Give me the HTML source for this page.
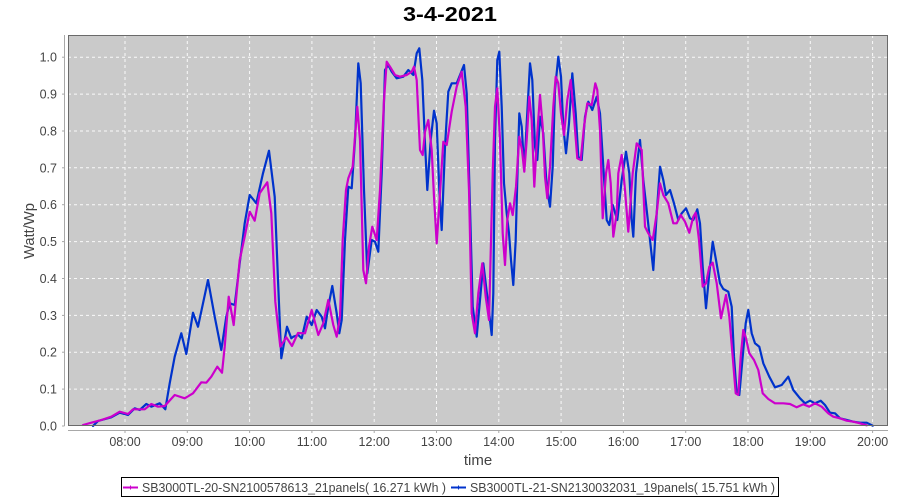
<!DOCTYPE html>
<html>
<head>
<meta charset="utf-8">
<style>
  html,body{margin:0;padding:0;background:#fff;}
  svg{display:block;}
  text{font-family:"Liberation Sans","DejaVu Sans",sans-serif;}
</style>
</head>
<body>
<svg width="900" height="500" viewBox="0 0 900 500" xmlns="http://www.w3.org/2000/svg">
  <rect x="0" y="0" width="900" height="500" fill="#ffffff"/>
  <!-- title -->
  <text x="450" y="21" text-anchor="middle" font-size="20" font-weight="bold" fill="#000" textLength="94" lengthAdjust="spacingAndGlyphs">3-4-2021</text>

  <!-- plot background -->
  <rect x="68" y="35" width="820" height="391" fill="#cacaca"/>

  <!-- grid -->
  <g stroke="#ffffff" stroke-width="1" stroke-dasharray="3,3" fill="none" opacity="0.9">
    <line x1="68" y1="389.1" x2="888" y2="389.1"/>
    <line x1="68" y1="352.2" x2="888" y2="352.2"/>
    <line x1="68" y1="315.4" x2="888" y2="315.4"/>
    <line x1="68" y1="278.5" x2="888" y2="278.5"/>
    <line x1="68" y1="241.6" x2="888" y2="241.6"/>
    <line x1="68" y1="204.7" x2="888" y2="204.7"/>
    <line x1="68" y1="167.8" x2="888" y2="167.8"/>
    <line x1="68" y1="131.0" x2="888" y2="131.0"/>
    <line x1="68" y1="94.1" x2="888" y2="94.1"/>
    <line x1="68" y1="57.2" x2="888" y2="57.2"/>
    <line x1="125" y1="35" x2="125" y2="426"/>
    <line x1="187.3" y1="35" x2="187.3" y2="426"/>
    <line x1="249.6" y1="35" x2="249.6" y2="426"/>
    <line x1="311.9" y1="35" x2="311.9" y2="426"/>
    <line x1="374.2" y1="35" x2="374.2" y2="426"/>
    <line x1="436.5" y1="35" x2="436.5" y2="426"/>
    <line x1="498.8" y1="35" x2="498.8" y2="426"/>
    <line x1="561.1" y1="35" x2="561.1" y2="426"/>
    <line x1="623.4" y1="35" x2="623.4" y2="426"/>
    <line x1="685.7" y1="35" x2="685.7" y2="426"/>
    <line x1="748" y1="35" x2="748" y2="426"/>
    <line x1="810.3" y1="35" x2="810.3" y2="426"/>
    <line x1="872.6" y1="35" x2="872.6" y2="426"/>
  </g>

  <!-- series: blue first, magenta on top -->
  <polyline fill="none" stroke="#0033cc" stroke-width="2.2" stroke-linejoin="round" stroke-linecap="round"
    points="93,426 98,421 111.3,417.3 119.7,412.7 128,415 134.7,408.3 139.7,410 146.3,404 151.3,406.7 159.7,403.3 165.3,409.3 169.7,383.3 174.7,356.7 181.3,333.3 186.3,354 193,312.7 198,326.7 208,280 214.7,316.7 221.3,350 226.3,316.7 229.7,303.3 234.7,305 239.7,263.3 244.7,223.3 249.7,195 256.3,203.3 263,173.3 269,150.7 274.7,196.7 278,280 281.3,358.3 287,326.7 291.3,338.3 293.3,336.7 298.3,335 301.7,338.3 306.7,316.7 311.7,325 316.7,310 321.7,316.7 325,328.3 328.3,306.7 332.3,286 336.7,313.3 339.3,333.3 341.7,320 345,240 348.3,186.7 351.7,188.3 355,140 358.3,63.3 360.7,83.3 364,190 367.3,273.3 371.7,240 375,241.7 378.3,251.7 381.7,173.3 385,70 388.3,65 391.7,71.7 396.7,78.3 403.3,76.7 408.3,70 413.3,75 416.7,53.3 419.3,48.3 422.3,80 425,143.3 427.3,190 430.7,140 434,110.7 436.7,123.3 439.3,190 441.7,230 445,146.7 448.3,91.7 451.7,83.3 456.7,83.3 460.7,73.3 464,65 466.7,93.3 470,206.7 472.7,306.7 476.7,336.7 480,300 483.3,263.3 487.7,300 491.7,335 493.3,293.3 495,140 497.3,60 499.3,51.7 501.7,106.7 504,183.3 506.7,213.3 509,233.3 511,260 513.3,285 515.7,240 517.3,180 519.3,113.3 521.7,126.7 524.3,170 526.7,123.3 530,63.3 532.3,80 535,146.7 537.3,160 540,116.7 543.3,133.3 546.7,186.7 550,206.7 552.7,166.7 555,90 558.3,56.7 561,76.7 563.3,126.7 566,153.3 569,123.3 572.3,73.3 575.7,113.3 578.3,156.7 581.7,160 585,116.7 588.3,101.7 592.3,110 596.7,96.7 600,113.3 603.3,166.7 606.7,220 609.3,225 612.7,205 617.3,220 621.7,180 626,151.7 629.3,173.3 631.7,220 633.3,236.7 636,173.3 640,140 643.3,180 646.7,210 650,240 653.3,270 656.7,213.3 660,166.7 663.3,180 666,195 670,190 674,203.3 678.3,220 681.7,213.3 686,208.3 690,218.3 693.3,220 697.3,209.3 700,223.3 702.7,266.7 706,308.3 709.3,273.3 712.7,241.7 716,260 720,283.3 723.3,289 728.3,291.7 731.7,306.7 734,356.7 736.7,393.3 739.3,395 742.7,356.7 745.7,323.3 748.3,310 751.7,333.3 755,343.3 759.3,346.7 763.3,363.3 769.3,376.7 775,387.3 781.7,385 788.3,376.7 793.3,390 800,398.3 805,403.3 810,400.7 815,403.3 820.7,400.7 825,405 830,412.7 835,413.3 840,418.3 846.7,420 853.3,421.7 860,422.7 866.7,422.7 872.7,425.7"/>
  <polyline fill="none" stroke="#cc00cc" stroke-width="2.2" stroke-linejoin="round" stroke-linecap="round"
    points="83,425 91.3,422.7 101.3,420 111.3,416.7 119.7,411.7 128,414 133,409.3 144.7,409.3 151.3,404 158,406.7 164.7,406 174.7,395 184.7,398.3 193,393.3 201.3,382.3 206.3,382.7 211.3,376.7 217.3,366.7 222,372.7 224.7,346.7 228.7,296.7 233.7,325 236.3,296.7 239.7,260 244.7,236.7 249.7,211.7 254.7,220.7 259.7,193.3 267.3,182.3 271.3,213.3 275.3,301.7 280.3,346.7 286.3,337.3 292,346 298,333 305,333.3 311.7,310 318.3,335 323.3,323.3 328.3,300 333.3,325 336.7,336.7 340,316.7 342.7,240 346,190 348.3,178.3 352.7,166.7 355,136.7 357.3,106.7 360,140 363.3,270 366,283.3 369,246.7 372.3,226.7 376.7,240 380,190 384,100 386.7,61.7 390,66.7 395,75 400,76.7 406.7,75 411.7,71.7 414,66.7 416.7,80 420,150 422.7,155 425,131.7 428.3,120 431.7,150 434,196.7 436.7,243.3 440,193.3 443.3,141.7 446.7,145 451.7,111.7 456.7,86.7 461.7,71.7 465.7,106.7 469,190 471.7,313.3 475,333.3 478.3,293.3 482.3,263.3 485.7,296.7 489,320 492.7,173.3 495,106.7 497.3,88.3 500,140 502.7,233.3 505,265 507.3,220 510,203.3 512.7,215 516,186.7 519.3,136.7 522,150 524.3,171.7 526.7,140 529.3,96.7 531.7,120 534.3,186.7 537.3,133.3 540,95 542.7,126.7 545,176.7 547.3,198.3 550,166.7 553.3,106.7 555.7,76.7 558.3,83.3 561,113.3 564,135 567.3,100 570.7,80 574,116.7 577.3,158.3 580.7,160 584,126.7 587.3,103.3 591.7,105 595.3,83.3 597.3,90 600,130 602.7,218.3 606,173.3 608.3,160 610.7,183.3 613.3,236.7 616.7,213.3 618.3,173.3 621.7,155 625,190 628.3,231.7 632.7,173.3 636.7,143.3 641.7,150 645,226.7 648.3,233.3 652.7,240 656.7,213.3 660,183.3 663.3,195 668.3,203.3 673.3,223.3 676.7,223.3 680.7,215 685,221.7 689.3,232.7 693.3,216.7 695.7,212.7 699,240 702.7,286.7 706,283.3 709.3,266.7 712.7,262.7 716.7,283.3 721,318.3 726,295 729.3,316.7 732.7,356.7 735.7,393.3 738.3,395 740.7,356.7 743.3,330 746,338.3 749.3,353.3 754,360 758.3,370 762.7,393.3 768.3,399 775,403.3 783.3,403.3 790,404 796.7,407.3 803.3,404.3 809.3,406.7 815,403.3 821.7,406.7 828.3,413.3 833.3,416.7 840,418.3 846.7,420.7 853.3,421.7 860,423.3 866.7,425.3"/>

  <!-- plot outline -->
  <rect x="68.5" y="35.5" width="819" height="390" fill="none" stroke="#6a6a6a" stroke-width="1"/>

  <!-- axes -->
  <g stroke="#a8a8a8" stroke-width="1" fill="none">
    <line x1="64.5" y1="35" x2="64.5" y2="426"/>
    <line x1="68" y1="430.5" x2="888" y2="430.5"/>
    <!-- y ticks -->
    <line x1="62" y1="426" x2="64.5" y2="426"/>
    <line x1="62" y1="389.1" x2="64.5" y2="389.1"/>
    <line x1="62" y1="352.2" x2="64.5" y2="352.2"/>
    <line x1="62" y1="315.4" x2="64.5" y2="315.4"/>
    <line x1="62" y1="278.5" x2="64.5" y2="278.5"/>
    <line x1="62" y1="241.6" x2="64.5" y2="241.6"/>
    <line x1="62" y1="204.7" x2="64.5" y2="204.7"/>
    <line x1="62" y1="167.8" x2="64.5" y2="167.8"/>
    <line x1="62" y1="131.0" x2="64.5" y2="131.0"/>
    <line x1="62" y1="94.1" x2="64.5" y2="94.1"/>
    <line x1="62" y1="57.2" x2="64.5" y2="57.2"/>
    <!-- x ticks -->
    <line x1="125" y1="430.5" x2="125" y2="433"/>
    <line x1="187.3" y1="430.5" x2="187.3" y2="433"/>
    <line x1="249.6" y1="430.5" x2="249.6" y2="433"/>
    <line x1="311.9" y1="430.5" x2="311.9" y2="433"/>
    <line x1="374.2" y1="430.5" x2="374.2" y2="433"/>
    <line x1="436.5" y1="430.5" x2="436.5" y2="433"/>
    <line x1="498.8" y1="430.5" x2="498.8" y2="433"/>
    <line x1="561.1" y1="430.5" x2="561.1" y2="433"/>
    <line x1="623.4" y1="430.5" x2="623.4" y2="433"/>
    <line x1="685.7" y1="430.5" x2="685.7" y2="433"/>
    <line x1="748" y1="430.5" x2="748" y2="433"/>
    <line x1="810.3" y1="430.5" x2="810.3" y2="433"/>
    <line x1="872.6" y1="430.5" x2="872.6" y2="433"/>
  </g>

  <!-- y tick labels -->
  <g font-size="12.5" fill="#444" text-anchor="end">
    <text x="57" y="430.5">0.0</text>
    <text x="57" y="393.6">0.1</text>
    <text x="57" y="356.7">0.2</text>
    <text x="57" y="319.9">0.3</text>
    <text x="57" y="283">0.4</text>
    <text x="57" y="246.1">0.5</text>
    <text x="57" y="209.2">0.6</text>
    <text x="57" y="172.3">0.7</text>
    <text x="57" y="135.5">0.8</text>
    <text x="57" y="98.6">0.9</text>
    <text x="57" y="61.7">1.0</text>
  </g>

  <!-- x tick labels -->
  <g font-size="12.5" fill="#444" text-anchor="middle">
    <text x="125" y="446">08:00</text>
    <text x="187.3" y="446">09:00</text>
    <text x="249.6" y="446">10:00</text>
    <text x="311.9" y="446">11:00</text>
    <text x="374.2" y="446">12:00</text>
    <text x="436.5" y="446">13:00</text>
    <text x="498.8" y="446">14:00</text>
    <text x="561.1" y="446">15:00</text>
    <text x="623.4" y="446">16:00</text>
    <text x="685.7" y="446">17:00</text>
    <text x="748" y="446">18:00</text>
    <text x="810.3" y="446">19:00</text>
    <text x="872.6" y="446">20:00</text>
  </g>

  <!-- axis labels -->
  <text x="478" y="465" font-size="15" fill="#444" text-anchor="middle">time</text>
  <text transform="translate(34,231) rotate(-90)" font-size="15" fill="#444" text-anchor="middle" textLength="56" lengthAdjust="spacingAndGlyphs">Watt/Wp</text>

  <!-- legend -->
  <rect x="121.5" y="477.5" width="657" height="19" fill="#fff" stroke="#000" stroke-width="1"/>
  <line x1="123" y1="487.5" x2="138" y2="487.5" stroke="#cc00cc" stroke-width="2"/>
  <line x1="130.5" y1="485.5" x2="130.5" y2="489.5" stroke="#cc00cc" stroke-width="1"/>
  <text x="142" y="492" font-size="12.5" fill="#444" textLength="304" lengthAdjust="spacingAndGlyphs">SB3000TL-20-SN2100578613_21panels( 16.271 kWh )</text>
  <line x1="451" y1="487.5" x2="466" y2="487.5" stroke="#0033cc" stroke-width="2"/>
  <line x1="458.5" y1="485.5" x2="458.5" y2="489.5" stroke="#0033cc" stroke-width="1"/>
  <text x="470" y="492" font-size="12.5" fill="#444" textLength="305" lengthAdjust="spacingAndGlyphs">SB3000TL-21-SN2130032031_19panels( 15.751 kWh )</text>
</svg>
</body>
</html>
